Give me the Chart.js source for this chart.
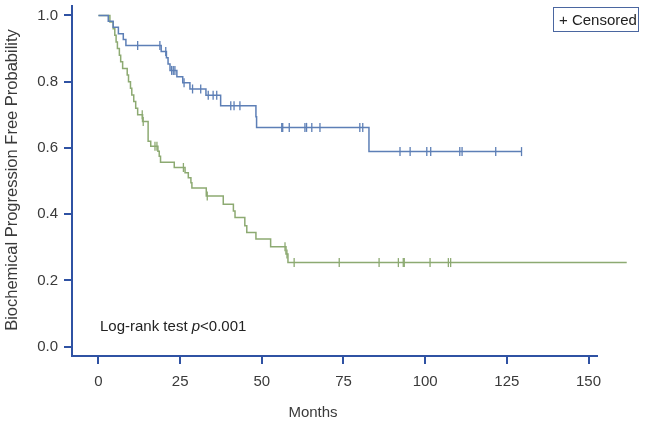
<!DOCTYPE html>
<html>
<head>
<meta charset="utf-8">
<script src="https://cdn.jsdelivr.net/npm/chart.js@4.4.1/dist/chart.umd.min.js"></script>
<style>
  html, body { margin: 0; padding: 0; background: #fff; }
</style>
</head>
<body>
<canvas id="kmChart" width="654" height="424"></canvas>
<script>
// Kaplan-Meier estimates (months, probability)
const blueTimes = [0, 3.0, 4.5, 6.1, 7.6, 8.4, 19.2, 20.8, 21.3, 21.9, 24.0, 25.8, 28.0, 32.9, 37.4, 48.2, 48.4, 82.8];
const blueSurv = [1.0, 0.982, 0.964, 0.945, 0.927, 0.909, 0.891, 0.872, 0.853, 0.834, 0.815, 0.797, 0.778, 0.759, 0.727, 0.694, 0.662, 0.589];
const blueCensored = [12.0, 18.8, 20.6, 22.4, 22.9, 23.4, 26.2, 28.8, 31.3, 33.6, 35.1, 36.2, 40.5, 41.5, 43.3,
  56.1, 56.4, 58.4, 63.2, 63.7, 65.3, 67.8, 80.0, 80.9, 92.3, 95.4, 100.5, 101.7, 110.6, 111.3, 121.6, 129.5];

const greenTimes = [0, 3.5, 4.5, 5.0, 5.4, 5.8, 6.4, 6.8, 7.4, 8.8, 9.2, 9.8, 10.2, 10.8, 11.4, 12.0, 13.5, 15.2, 16.0,
  18.2, 18.6, 19.0, 23.2, 26.5, 27.5, 28.3, 28.6, 33.0, 38.2, 41.3, 41.8, 44.8, 45.4, 48.2, 52.7, 57.4, 58.0];
const greenSurv = [1.0, 0.98, 0.96, 0.94, 0.92, 0.90, 0.88, 0.86, 0.84, 0.82, 0.80, 0.78, 0.76, 0.74, 0.72, 0.70, 0.68, 0.62, 0.605,
  0.59, 0.575, 0.557, 0.541, 0.525, 0.51, 0.495, 0.479, 0.455, 0.43, 0.41, 0.39, 0.365, 0.345, 0.325, 0.302, 0.28, 0.254];
const greenCensored = [13.4, 13.7, 17.3, 17.9, 26.0, 33.3, 57.1, 57.7, 59.9, 73.7, 85.9, 91.8, 93.3, 93.6,
  101.5, 107.1, 107.8, 161.7];

const xTicks = [0, 25, 50, 75, 100, 125, 150];
const yTicks = [0, 0.2, 0.4, 0.6, 0.8, 1.0];

const axisColor = "#2f52a3";
const textColor = "#3a3a3a";
const blueColor = "#5d7fb6";
const greenColor = "#8daa72";

function survAt(times, surv, t) {
  let s = surv[0];
  for (let i = 0; i < times.length; i++) {
    if (times[i] <= t) s = surv[i];
  }
  return s;
}

function curvePoints(times, surv, censored) {
  const pts = times.map((t, i) => ({ x: t, y: surv[i] }));
  const last = Math.max(...censored);
  pts.push({ x: last, y: surv[surv.length - 1] });
  return pts;
}

function censorPoints(times, surv, censored) {
  return censored.map((t) => ({ x: t, y: survAt(times, surv, t) }));
}

const textPlugin = {
  id: "kmText",
  afterDraw(chart) {
    const ctx = chart.ctx;
    ctx.save();
    ctx.fillStyle = textColor;
    ctx.font = "15px 'Liberation Sans', Arial, sans-serif";
    ctx.textBaseline = "middle";
    ctx.textAlign = "center";
    ctx.fillText("Months", 313, 413);

    ctx.font = "16.5px 'Liberation Sans', Arial, sans-serif";
    ctx.translate(12, 180);
    ctx.rotate(-Math.PI / 2);
    ctx.fillText("Biochemical Progression Free Probability", 0, 0);
    ctx.restore();

    ctx.save();
    ctx.fillStyle = "#222";
    ctx.textBaseline = "alphabetic";
    ctx.textAlign = "left";
    ctx.font = "15px 'Liberation Sans', Arial, sans-serif";
    let x = 100;
    const y = 331;
    const a = "Log-rank test ";
    ctx.fillText(a, x, y);
    x += ctx.measureText(a).width;
    ctx.font = "italic 15px 'Liberation Sans', Arial, sans-serif";
    ctx.fillText("p", x, y);
    x += ctx.measureText("p").width;
    ctx.font = "15px 'Liberation Sans', Arial, sans-serif";
    ctx.fillText("<0.001", x, y);

    // legend box
    ctx.strokeStyle = "#4a66a0";
    ctx.lineWidth = 1;
    ctx.strokeRect(553.5, 7.5, 85, 24);
    ctx.font = "15px 'Liberation Sans', Arial, sans-serif";
    ctx.fillText("+ Censored", 559, 25);
    ctx.restore();
  }
};

new Chart(document.getElementById("kmChart"), {
  type: "scatter",
  data: {
    datasets: [
      {
        label: "Group 1",
        data: curvePoints(blueTimes, blueSurv, blueCensored),
        showLine: true,
        stepped: true,
        borderColor: blueColor,
        borderWidth: 1.5,
        pointRadius: 0,
        clip: false,
      },
      {
        label: "Group 2",
        data: curvePoints(greenTimes, greenSurv, greenCensored),
        showLine: true,
        stepped: true,
        borderColor: greenColor,
        borderWidth: 1.5,
        pointRadius: 0,
        clip: false,
      },
      {
        label: "Censored 1",
        data: censorPoints(blueTimes, blueSurv, blueCensored),
        pointStyle: "line",
        rotation: 90,
        pointRadius: 4.5,
        borderColor: blueColor,
        borderWidth: 1.3,
        clip: false,
      },
      {
        label: "Censored 2",
        data: censorPoints(greenTimes, greenSurv, greenCensored),
        pointStyle: "line",
        rotation: 90,
        pointRadius: 4.5,
        borderColor: greenColor,
        borderWidth: 1.3,
        clip: false,
      },
    ],
  },
  options: {
    responsive: false,
    animation: false,
    devicePixelRatio: 1,
    layout: { padding: { top: 3, right: 57, left: 0, bottom: 0 } },
    plugins: {
      legend: { display: false },
      tooltip: { enabled: false },
    },
    scales: {
      x: {
        type: "linear",
        min: -8.1,
        max: 152.6,
        afterBuildTicks: (scale) => {
          scale.ticks = xTicks.map((v) => ({ value: v }));
        },
        afterFit: (scale) => {
          scale.height = 68;
          scale.paddingLeft = 0;
          scale.paddingRight = 0;
        },
        ticks: {
          color: textColor,
          font: { size: 15, family: "'Liberation Sans', Arial, sans-serif" },
          padding: 9,
          maxRotation: 0,
          autoSkip: false,
          callback: (v) => String(v),
        },
        grid: { drawOnChartArea: false, drawTicks: true, tickLength: 8, color: axisColor, lineWidth: 2 },
        border: { color: axisColor, width: 2 },
      },
      y: {
        type: "linear",
        min: -0.028,
        max: 1.029,
        afterBuildTicks: (scale) => {
          scale.ticks = yTicks.map((v) => ({ value: v }));
        },
        afterFit: (scale) => {
          scale.width = 72;
          scale.paddingTop = 0;
          scale.paddingBottom = 0;
        },
        ticks: {
          color: textColor,
          font: { size: 15, family: "'Liberation Sans', Arial, sans-serif" },
          padding: 6,
          autoSkip: false,
          callback: (v) => v.toFixed(1),
        },
        grid: { drawOnChartArea: false, drawTicks: true, tickLength: 8, color: axisColor, lineWidth: 2 },
        border: { color: axisColor, width: 2 },
      },
    },
  },
  plugins: [textPlugin],
});
</script>
</body>
</html>
